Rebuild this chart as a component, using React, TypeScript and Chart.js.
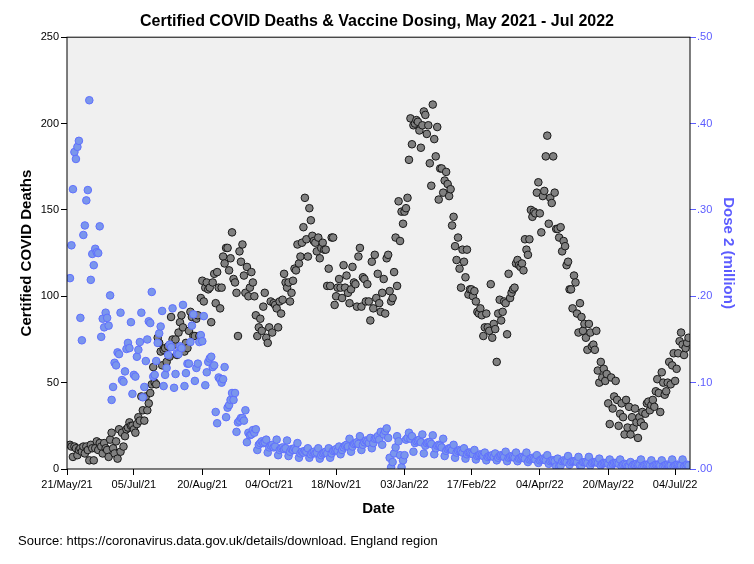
import React, { useEffect, useRef } from 'react';
import { Chart, registerables } from 'chart.js';

Chart.register(...registerables);

// ---------------- data ----------------
const AXIS_START = '2021-05-21';
const AXIS_END = '2022-07-14';
const FIRST_DAY = '2021-05-23';

const titleText = 'Certified COVID Deaths & Vaccine Dosing, May 2021 - Jul 2022';
const sourceText = 'Source: https://coronavirus.data.gov.uk/details/download. England region';

const tickLabels = [
  '21/May/21', '05/Jul/21', '20/Aug/21', '04/Oct/21', '18/Nov/21',
  '03/Jan/22', '17/Feb/22', '04/Apr/22', '20/May/22', '04/Jul/22',
];

const deathTicks = [0, 50, 100, 150, 200, 250];
const doseTicks = [0, 0.1, 0.2, 0.3, 0.4, 0.5];

// Certified COVID deaths per day, from 23 May 2021
const deaths = [
  14, 13, 7, 13, 12, 8, 11, 12,
  10, 13, 9, 13, 11, 5, 14, 12, 5, 12,
  16, 11, 15, 13, 9, 15, 12, 11, 7, 17,
  21, 12, 9, 16, 6, 23, 10, 21, 13, 19,
  23, 24, 27, 25, 25, 23, 21, 26, 30, 28,
  42, 34, 28, 42, 34, 38, 44, 49, 59, 50,
  49, 76, 73, 68, 60, 69, 70, 62, 71, 65,
  88, 75, 72, 75, 66, 79, 85, 89, 82, 68,
  73, 70, 80, 91, 88, 77, 77, 87, 89, 77,
  99, 109, 97, 105, 108, 104, 105, 85, 108, 113,
  96, 114, 105, 93, 105, 123, 119, 128, 128, 115,
  122, 137, 110, 108, 102, 77, 126, 120, 130, 112,
  102, 117, 100, 105, 114, 108, 100, 89, 77, 82,
  87, 80, 94, 102, 76, 73, 82, 97, 79, 96,
  95, 93, 82, 97, 90, 98, 113, 108, 105, 108,
  97, 102, 109, 116, 115, 130, 119, 123, 131, 140,
  157, 133, 123, 151, 144, 135, 132, 131, 126, 134,
  122, 128, 131, 127, 127, 106, 116, 106, 134, 134,
  95, 100, 105, 110, 105, 99, 118, 105, 112, 102,
  96, 104, 117, 108, 107, 94, 123, 128, 94, 111,
  110, 97, 107, 97, 86, 120, 93, 124, 99, 113,
  96, 91, 102, 110, 90, 122, 124, 103, 97, 99,
  114, 134, 106, 155, 132, 149, 142, 149, 151, 157,
  179, 203, 188, 199, 200, 202, 201, 196, 186, 199,
  207, 205, 194, 199, 177, 164, 211, 191, 181, 198,
  156, 174, 174, 160, 167, 172, 165, 158, 162, 141,
  146, 129, 121, 134, 116, 105, 127, 120, 111, 127,
  101, 104, 104, 100, 103, 97, 91, 90, 93, 89,
  77, 82, 90, 82, 80, 107, 76, 84, 81, 62,
  90, 98, 86, 91, 97, 96, 78, 113, 99, 102,
  104, 105, 119, 121, 118, 117, 119, 115, 133, 127,
  124, 133, 150, 146, 149, 148, 160, 166, 148, 137,
  158, 161, 181, 193, 142, 157, 154, 181, 160, 139,
  139, 134, 140, 126, 132, 129, 118, 120, 104, 104,
  93, 112, 108, 90, 79, 96, 88, 80, 84, 76,
  69, 84, 79, 71, 72, 69, 80, 57, 50, 62,
  53, 58, 51, 55, 38, 26, 53, 35, 42, 51,
  40, 25, 32, 38, 30, 20, 40, 24, 36, 20,
  30, 24, 35, 27, 18, 30, 27, 33, 25, 32,
  38, 39, 34, 37, 40, 36, 45, 52, 44, 33,
  56, 50, 43, 45, 50, 62, 49, 60, 67, 51,
  58, 67, 74, 79, 72, 66, 70, 73, 76,
];

// Second vaccine doses per day (million), from 23 May 2021
const dose2 = [
  0.221, 0.259, 0.324, 0.367, 0.359, 0.373, 0.380, 0.175,
  0.149, 0.271, 0.282, 0.311, 0.323, 0.427, 0.219, 0.249, 0.236, 0.255,
  0.251, 0.250, 0.281, 0.153, 0.174, 0.164, 0.181, 0.175, 0.166, 0.201,
  0.080, 0.095, 0.123, 0.120, 0.135, 0.133, 0.181, 0.103, 0.101, 0.113,
  0.139, 0.146, 0.140, 0.170, 0.087, 0.109, 0.107, 0.130, 0.138, 0.147,
  0.181, 0.083, 0.095, 0.125, 0.150, 0.171, 0.169, 0.205, 0.107, 0.109,
  0.125, 0.146, 0.157, 0.165, 0.183, 0.096, 0.109, 0.117, 0.132, 0.144,
  0.141, 0.186, 0.094, 0.110, 0.134, 0.133, 0.142, 0.140, 0.190, 0.096,
  0.111, 0.122, 0.122, 0.147, 0.166, 0.179, 0.102, 0.117, 0.122, 0.147,
  0.155, 0.148, 0.177, 0.097, 0.112, 0.124, 0.128, 0.130, 0.118, 0.120,
  0.066, 0.053, 0.106, 0.104, 0.100, 0.104, 0.118, 0.060, 0.071, 0.074,
  0.080, 0.088, 0.080, 0.088, 0.043, 0.054, 0.056, 0.059, 0.059, 0.056,
  0.068, 0.031, 0.042, 0.039, 0.040, 0.045, 0.042, 0.046, 0.022, 0.028,
  0.030, 0.032, 0.030, 0.031, 0.034, 0.019, 0.025, 0.027, 0.028, 0.025,
  0.026, 0.034,
  0.016, 0.022, 0.024, 0.025, 0.023, 0.024, 0.033,
  0.015, 0.020, 0.023, 0.022, 0.024, 0.022, 0.030,
  0.013, 0.018, 0.020, 0.019, 0.021, 0.020, 0.024,
  0.013, 0.017, 0.019, 0.020, 0.018, 0.019, 0.024,
  0.012, 0.016, 0.018, 0.019, 0.020, 0.018, 0.024,
  0.013, 0.018, 0.021, 0.022, 0.023, 0.021, 0.026,
  0.017, 0.022, 0.025, 0.027, 0.028, 0.026, 0.035,
  0.020, 0.026, 0.029, 0.030, 0.031, 0.029, 0.038,
  0.022, 0.028, 0.031, 0.033, 0.032, 0.030, 0.036,
  0.024, 0.030, 0.035, 0.036, 0.038, 0.034, 0.043,
  0.028, 0.040, 0.044, 0.047, 0.036, 0.013, 0.002,
  0.008, 0.018, 0.025, 0.038, 0.032, 0.016, 0.002,
  0.010, 0.016, 0.034, 0.036, 0.042, 0.035, 0.038,
  0.020, 0.030, 0.032, 0.033, 0.034, 0.031, 0.040,
  0.018, 0.027, 0.030, 0.031, 0.031, 0.029, 0.039,
  0.017, 0.024, 0.027, 0.028, 0.027, 0.025, 0.035,
  0.015, 0.021, 0.023, 0.024, 0.024, 0.022, 0.028,
  0.013, 0.019, 0.021, 0.022, 0.021, 0.019, 0.024,
  0.012, 0.017, 0.019, 0.019, 0.018, 0.017, 0.022,
  0.011, 0.015, 0.016, 0.017, 0.016, 0.015, 0.019,
  0.010, 0.014, 0.015, 0.015, 0.016, 0.014, 0.018,
  0.010, 0.013, 0.015, 0.016, 0.015, 0.014, 0.020,
  0.009, 0.013, 0.014, 0.015, 0.014, 0.013, 0.019,
  0.009, 0.012, 0.013, 0.014, 0.013, 0.012, 0.019,
  0.008, 0.011, 0.012, 0.013, 0.012, 0.011, 0.016,
  0.007, 0.010, 0.011, 0.012, 0.011, 0.010, 0.016,
  0.006, 0.009, 0.010, 0.010, 0.009, 0.003, 0.012,
  0.003, 0.004, 0.009, 0.010, 0.009, 0.008, 0.015,
  0.005, 0.008, 0.009, 0.009, 0.009, 0.008, 0.014,
  0.004, 0.004, 0.008, 0.008, 0.008, 0.007, 0.014,
  0.004, 0.007, 0.008, 0.008, 0.008, 0.007, 0.012,
  0.004, 0.006, 0.007, 0.007, 0.007, 0.006, 0.011,
  0.003, 0.006, 0.007, 0.007, 0.007, 0.006, 0.011,
  0.003, 0.005, 0.006, 0.005, 0.003, 0.003, 0.008,
  0.003, 0.005, 0.005, 0.006, 0.005, 0.005, 0.011,
  0.003, 0.004, 0.005, 0.005, 0.005, 0.004, 0.010,
  0.003, 0.004, 0.005, 0.005, 0.005, 0.004, 0.010,
  0.003, 0.004, 0.005, 0.005, 0.004, 0.004, 0.011,
  0.003, 0.004, 0.005, 0.005, 0.004, 0.004, 0.011,
  0.003, 0.004, 0.005, 0.004,
];

// ---------------- helpers ----------------
const DAY_MS = 86400000;
const MONTHS: Record<string, number> = {
  Jan: 0, Feb: 1, Mar: 2, Apr: 3, May: 4, Jun: 5, Jul: 6, Aug: 7, Sep: 8, Oct: 9, Nov: 10, Dec: 11,
};
const isoToMs = (s: string) => Date.parse(s + 'T00:00:00Z');
const labelToMs = (s: string) => {
  const [d, m, y] = s.split('/');
  return Date.UTC(2000 + Number(y), MONTHS[m], Number(d));
};
const t0 = isoToMs(AXIS_START);
const axisMax = Math.round((isoToMs(AXIS_END) - t0) / DAY_MS);
const firstOffset = Math.round((isoToMs(FIRST_DAY) - t0) / DAY_MS);
const tickDays = tickLabels.map((l) => Math.round((labelToMs(l) - t0) / DAY_MS));

const deathPoints = deaths.map((v, i) => ({ x: firstOffset + i, y: v }));
const dosePoints = dose2.map((v, i) => ({ x: firstOffset + i, y: v }));

const BLUE = 'rgb(92,92,255)';
const FONT = '"Liberation Sans", Arial, Helvetica, sans-serif';

const framePlugin = {
  id: 'frameAndSource',
  beforeDraw(chart: any) {
    const { ctx, chartArea: a, width, height } = chart;
    ctx.save();
    ctx.fillStyle = '#ffffff';
    ctx.fillRect(0, 0, width, height);
    ctx.fillStyle = '#F0F0F0';
    ctx.fillRect(a.left, a.top, a.right - a.left, a.bottom - a.top);
    ctx.restore();
  },
  afterDraw(chart: any) {
    const { ctx, chartArea: a } = chart;
    ctx.save();
    ctx.strokeStyle = '#000';
    ctx.lineWidth = 1;
    ctx.strokeRect(a.left, a.top, a.right - a.left, a.bottom - a.top);
    ctx.font = `13px ${FONT}`;
    ctx.fillStyle = '#000';
    ctx.textAlign = 'left';
    ctx.textBaseline = 'middle';
    ctx.fillText(sourceText, 18, 541);
    ctx.restore();
  },
};

export default function App() {
  const ref = useRef<HTMLCanvasElement>(null);

  useEffect(() => {
    if (!ref.current) return;
    Chart.defaults.font.family = FONT;
    const chart = new Chart(ref.current, {
      type: 'scatter',
      data: {
        datasets: [
          {
            label: 'Dose 2 (million)',
            data: dosePoints,
            yAxisID: 'y1',
            backgroundColor: 'rgb(122,150,236)',
            borderColor: 'rgb(96,112,255)',
            borderWidth: 1,
            pointRadius: 3.8,
            order: 0,
          },
          {
            label: 'Certified COVID Deaths',
            data: deathPoints,
            yAxisID: 'y',
            backgroundColor: 'rgb(128,128,128)',
            borderColor: 'rgb(25,25,25)',
            borderWidth: 1,
            pointRadius: 3.8,
            order: 1,
          },
        ],
      },
      options: {
        responsive: false,
        animation: false,
        maintainAspectRatio: false,
        layout: { padding: 0 },
        plugins: {
          legend: { display: false },
          tooltip: { enabled: false },
          title: {
            display: true,
            text: titleText,
            color: '#000',
            font: { size: 16, weight: 'bold' },
            padding: { top: 12, bottom: 6 },
          },
        },
        scales: {
          x: {
            type: 'linear',
            position: 'bottom',
            min: 0,
            max: axisMax,
            afterBuildTicks: (s: any) => {
              s.ticks = tickDays.map((v) => ({ value: v }));
            },
            afterFit: (s: any) => {
              s.height = 95;
            },
            ticks: {
              autoSkip: false,
              maxRotation: 0,
              minRotation: 0,
              padding: 3,
              color: '#000',
              font: { size: 11 },
              callback: (_v: any, i: number) => tickLabels[i],
            },
            grid: { display: true, drawOnChartArea: false, drawTicks: true, tickLength: 6, color: '#000' },
            border: { display: false },
            title: {
              display: true,
              text: 'Date',
              color: '#000',
              font: { size: 15, weight: 'bold' },
              padding: { top: 0, bottom: 46 },
            },
          },
          y: {
            type: 'linear',
            position: 'left',
            min: 0,
            max: 250,
            afterBuildTicks: (s: any) => {
              s.ticks = deathTicks.map((v) => ({ value: v }));
            },
            afterFit: (s: any) => {
              s.width = 67;
            },
            ticks: { padding: 2, color: '#000', font: { size: 11 } },
            grid: { display: true, drawOnChartArea: false, drawTicks: true, tickLength: 6, color: '#000' },
            border: { display: false },
            title: {
              display: true,
              text: 'Certified COVID Deaths',
              color: '#000',
              font: { size: 15, weight: 'bold' },
              padding: { top: 18, bottom: 0 },
            },
          },
          y1: {
            type: 'linear',
            position: 'right',
            min: 0,
            max: 0.5,
            afterBuildTicks: (s: any) => {
              s.ticks = doseTicks.map((v) => ({ value: v }));
            },
            afterFit: (s: any) => {
              s.width = 64;
            },
            ticks: {
              padding: 1,
              color: BLUE,
              font: { size: 11 },
              callback: (v: any) => Number(v).toFixed(2).replace(/^0/, ''),
            },
            grid: { display: true, drawOnChartArea: false, drawTicks: true, tickLength: 6, color: BLUE },
            border: { display: false },
            title: {
              display: true,
              text: 'Dose 2 (million)',
              color: BLUE,
              font: { size: 15, weight: 'bold' },
              padding: { top: 17, bottom: 0 },
            },
          },
        },
      },
      plugins: [framePlugin],
    } as any);
    return () => chart.destroy();
  }, []);

  return (
    <div style={{ position: 'absolute', left: 0, top: 0, width: 754, height: 564, background: '#fff' }}>
      <canvas ref={ref} width={754} height={564} style={{ display: 'block', width: 754, height: 564 }} />
    </div>
  );
}
